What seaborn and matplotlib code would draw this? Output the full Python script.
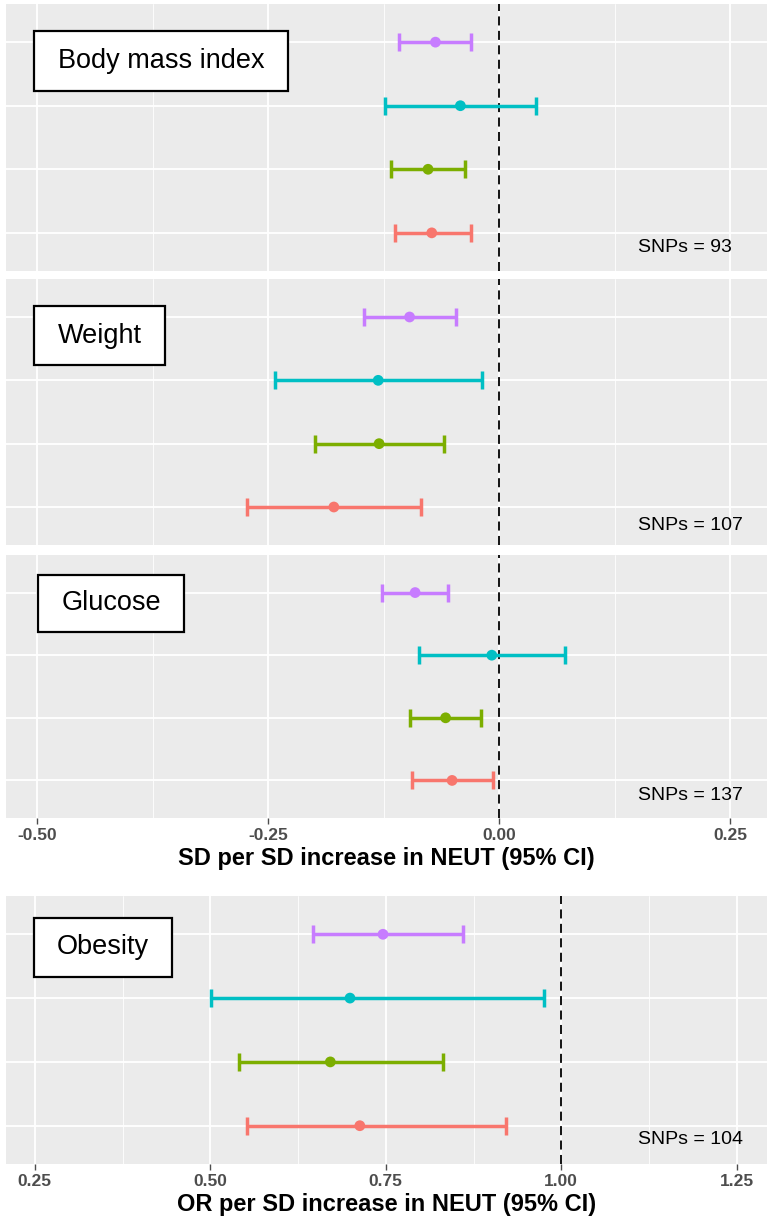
import matplotlib
matplotlib.use("Agg")
import matplotlib.pyplot as plt
from matplotlib.patches import Rectangle
from matplotlib.ticker import MultipleLocator
import seaborn as sns
import pandas as pd

# rows bottom -> top, ggplot default hue order
methods = ["Method 1", "Method 2", "Method 3", "Method 4"]
positions = [1, 2, 3, 4]
colors = ["#F8766D", "#7CAE00", "#00BFC4", "#C77CFF"]

bmi_est = [-0.073, -0.077, -0.042, -0.069]
bmi_lo = [-0.113, -0.117, -0.124, -0.108]
bmi_hi = [-0.031, -0.037, 0.040, -0.030]

weight_est = [-0.179, -0.130, -0.131, -0.097]
weight_lo = [-0.273, -0.199, -0.243, -0.146]
weight_hi = [-0.085, -0.060, -0.019, -0.047]

glucose_est = [-0.051, -0.058, -0.008, -0.091]
glucose_lo = [-0.094, -0.097, -0.087, -0.127]
glucose_hi = [-0.007, -0.020, 0.071, -0.055]

obesity_est = [0.713, 0.671, 0.699, 0.746]
obesity_lo = [0.553, 0.541, 0.501, 0.646]
obesity_hi = [0.921, 0.832, 0.976, 0.860]

traits = ["Body mass index", "Weight", "Glucose", "Obesity"]
snp_labels = ["SNPs = 93", "SNPs = 107", "SNPs = 137", "SNPs = 104"]
sd_ticks = [-0.50, -0.25, 0.00, 0.25]
or_ticks = [0.25, 0.50, 0.75, 1.00, 1.25]
sd_xlabel = "SD per SD increase in NEUT (95% CI)"
or_xlabel = "OR per SD increase in NEUT (95% CI)"

sns.set_theme(style="darkgrid", rc={"axes.facecolor": "#EBEBEB", "grid.color": "white",
                                    "figure.facecolor": "white"})
plt.rcParams["font.family"] = ["Liberation Sans", "DejaVu Sans"]

W, H = 772, 1226
fig = plt.figure(figsize=(W / 100, H / 100), dpi=100)


def make_panel(top, bottom, est, lo, hi, xlim, ticks, ref, show_x, xlabel=None):
    ax = fig.add_axes([6 / W, 1 - bottom / H, (767 - 6) / W, (bottom - top) / H])
    df = pd.DataFrame({"method": methods, "pos": positions, "est": est, "lo": lo, "hi": hi})
    for i, row in df.iterrows():
        ax.errorbar(row["est"], row["pos"],
                    xerr=[[row["est"] - row["lo"]], [row["hi"] - row["est"]]],
                    fmt="none", ecolor=colors[i], elinewidth=2.5, capsize=6.5,
                    capthick=2.5, zorder=3)
    sns.scatterplot(data=df, x="est", y="pos", hue="method", palette=colors,
                    s=60, edgecolor="none", legend=False, ax=ax, zorder=4)
    ax.axvline(ref, color="black", lw=1.3, ls=(0, (5, 3)), zorder=2)
    ax.set_xlim(*xlim)
    ax.set_ylim(0.4, 4.6)
    ax.set_xticks(ticks)
    ax.xaxis.set_minor_locator(MultipleLocator(0.125))
    ax.set_yticks(positions)
    ax.set_yticklabels([])
    ax.grid(which="major", color="white", lw=1.3)
    ax.grid(which="minor", axis="x", color="white", lw=0.6)
    ax.tick_params(axis="y", length=0)
    ax.tick_params(axis="x", which="minor", length=0)
    if show_x:
        ax.set_xticklabels([f"{t:.2f}" for t in ticks], fontweight="bold", color="#4D4D4D")
        ax.tick_params(axis="x", which="major", bottom=True, length=4, width=1,
                       color="#4D4D4D", labelsize=12.5, pad=3)
        ax.set_xlabel(xlabel, fontsize=17, fontweight="bold", color="black", labelpad=3)
    else:
        ax.tick_params(axis="x", labelbottom=False, length=0)
        ax.set_xlabel("")
    ax.set_ylabel("")
    for s in ax.spines.values():
        s.set_visible(False)
    return ax


make_panel(4, 271, bmi_est, bmi_lo, bmi_hi, (-0.534, 0.290), sd_ticks, 0, False)
make_panel(279, 545, weight_est, weight_lo, weight_hi, (-0.534, 0.290), sd_ticks, 0, False)
make_panel(555, 818, glucose_est, glucose_lo, glucose_hi, (-0.534, 0.290), sd_ticks, 0, True, sd_xlabel)
make_panel(896, 1164, obesity_est, obesity_lo, obesity_hi, (0.209, 1.293), or_ticks, 1, True, or_xlabel)

# trait label boxes (pixel boxes: left, top, right, bottom)
boxes = [(34, 31, 288, 91), (34, 306, 165, 365), (38, 575, 184, 632), (34, 918, 172, 977)]
for name, (x0, y0, x1, y1) in zip(traits, boxes):
    fig.patches.append(Rectangle((x0 / W, 1 - y1 / H), (x1 - x0) / W, (y1 - y0) / H,
                                 transform=fig.transFigure, facecolor="white",
                                 edgecolor="black", lw=1.6, zorder=10))
    fig.text((x0 + x1) / 2 / W, 1 - (y0 + y1) / 2 / H, name, ha="center", va="center",
             fontsize=19.5, color="black", zorder=11)

snp_y = [248, 525, 796, 1139]
for lab, y in zip(snp_labels, snp_y):
    fig.text(638 / W, 1 - y / H, lab, ha="left", va="center", fontsize=14, color="black")

fig.savefig("out.png", dpi=100)
